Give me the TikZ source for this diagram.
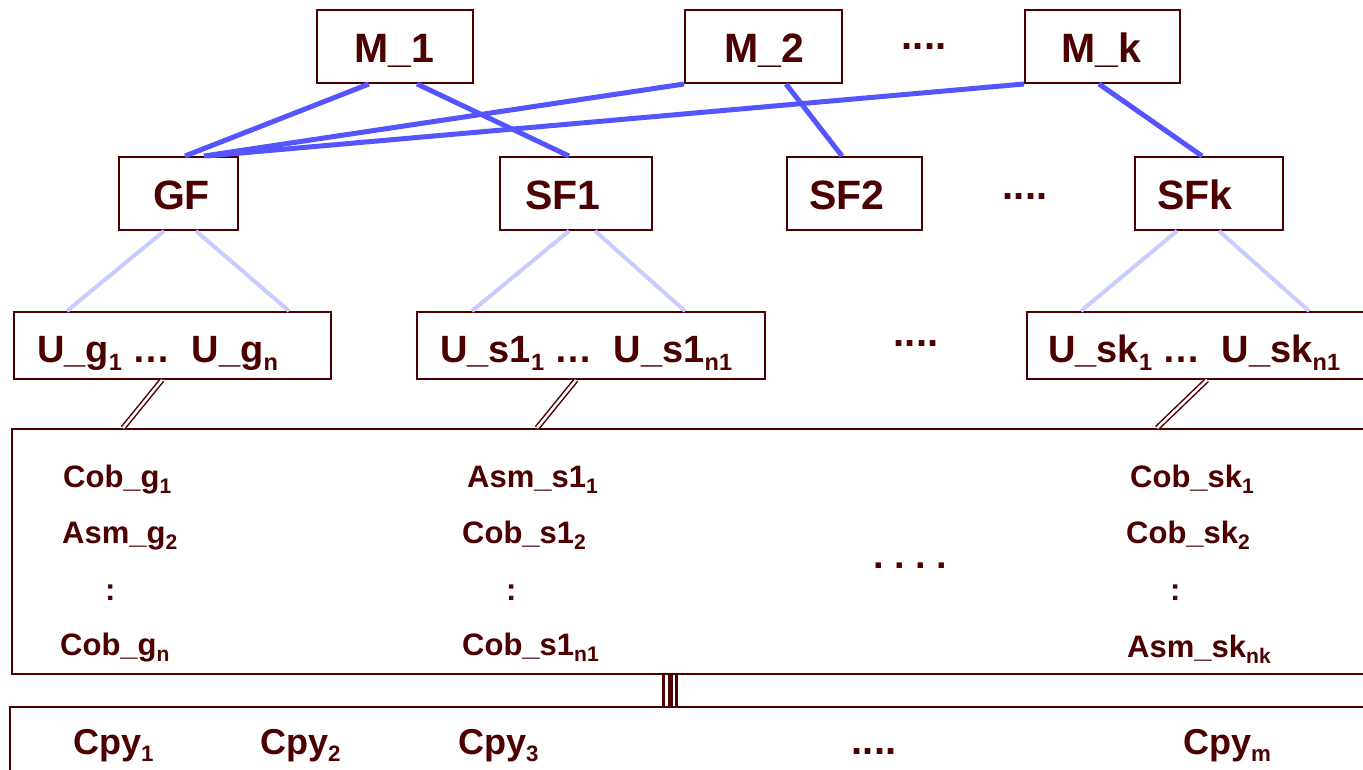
\documentclass[tikz,border=0pt]{standalone}
\usepackage{fontspec}
\setmainfont{Liberation Sans}
\usetikzlibrary{calc}
\definecolor{ink}{HTML}{4D0000}
\definecolor{strong}{HTML}{5555FF}
\definecolor{pale}{HTML}{C8CDFF}
% lowered, reduced index after a name
\newcommand\subs[1]{\raisebox{-0.22em}{\scalebox{0.62}{#1}}}
\newcommand\isubs[1]{\raisebox{-0.22em}{\scalebox{0.68}{#1}}}
\begin{document}
\begin{tikzpicture}[x=1pt,y=-1pt,
  box/.style={draw=ink, line width=2pt, inner sep=0pt},
  biglbl/.style={text=ink, inner sep=0pt, anchor=base, font=\fontsize{41}{41}\selectfont\bfseries},
  unitlbl/.style={text=ink, inner sep=0pt, anchor=base west, font=\fontsize{38}{38}\selectfont\bfseries},
  itemlbl/.style={text=ink, inner sep=0pt, anchor=base west, font=\fontsize{31}{31}\selectfont\bfseries},
  copylbl/.style={text=ink, inner sep=0pt, anchor=base west, font=\fontsize{36}{36}\selectfont\bfseries},
  dots/.style={text=ink, inner sep=0pt, anchor=base, font=\fontsize{40}{40}\selectfont\bfseries},
  link/.style={draw=strong, line width=5pt},
  faint/.style={draw=pale, line width=4pt},
  dbl/.style={draw=ink, double=white, line width=1.5pt, double distance=2.5pt},
]
\useasboundingbox (0,0) rectangle (1363,770);

% managers
\node[box, minimum width=156pt, minimum height=73pt] (m1) at (395,46.5) {};
\node[box, minimum width=157pt, minimum height=73pt] (m2) at (763.5,46.5) {};
\node[box, minimum width=155pt, minimum height=73pt] (mk) at (1102.5,46.5) {};
\node[biglbl] (m1t) at (394,63) {M\_1};
\node[biglbl] (m2t) at (764,63) {M\_2};
\node[biglbl] (mkt) at (1101,63) {M\_k};
\node[dots] (d1) at (924,50) {....};

% federations
\node[box, minimum width=119pt, minimum height=73pt] (gf) at (178.5,193.5) {};
\node[box, minimum width=152pt, minimum height=73pt] (sf1) at (576,193.5) {};
\node[box, minimum width=135pt, minimum height=73pt] (sf2) at (854.5,193.5) {};
\node[box, minimum width=148pt, minimum height=73pt] (sfk) at (1209,193.5) {};
\node[biglbl] (gft) at (181.5,210) {GF};
\node[biglbl] (sf1t) at (563,210) {SF1};
\node[biglbl] (sf2t) at (847,210) {SF2};
\node[biglbl] (sfkt) at (1195,210) {SFk};
\node[dots] (d2) at (1025,200) {....};

% unit groups
\node[box, minimum width=317pt, minimum height=67pt] (ug) at (172.5,345.5) {};
\node[box, minimum width=348pt, minimum height=67pt] (us1) at (591,345.5) {};
\node[box, minimum width=348pt, minimum height=67pt] (usk) at (1201,345.5) {};
\node[unitlbl] (ugt) at (37,362) {U\_g\subs{1}\ … \ U\_g\subs{n}};
\node[unitlbl] (us1t) at (440,362) {U\_s1\subs{1}\ … \ U\_s1\subs{n1}};
\node[unitlbl] (uskt) at (1048,362) {U\_sk\subs{1}\ … \ U\_sk\subs{n1}};
\node[dots] (d3) at (916,346) {....};

% pool of components
\node[box, minimum width=1368pt, minimum height=245pt] (pool) at (696,551.5) {};
\node[itemlbl] (c11) at (63,487) {Cob\_g\isubs{1}};
\node[itemlbl] (c12) at (62,543) {Asm\_g\isubs{2}};
\node[itemlbl] (c13) at (105,600) {:};
\node[itemlbl] (c14) at (60,655) {Cob\_g\isubs{n}};
\node[itemlbl] (c21) at (467,487) {Asm\_s1\isubs{1}};
\node[itemlbl] (c22) at (462,543) {Cob\_s1\isubs{2}};
\node[itemlbl] (c23) at (506,600) {:};
\node[itemlbl] (c24) at (462,655) {Cob\_s1\isubs{n1}};
\node[itemlbl] (c31) at (1130,487) {Cob\_sk\isubs{1}};
\node[itemlbl] (c32) at (1126,543) {Cob\_sk\isubs{2}};
\node[itemlbl] (c33) at (1170,600) {:};
\node[itemlbl] (c34) at (1127,657) {Asm\_sk\isubs{nk}};
\node[dots, font=\fontsize{38}{38}\selectfont\bfseries] (d4) at (910,568) {.\ .\ .\ .};

% copies
\node[box, minimum width=1370pt, minimum height=83pt] (copies) at (695,748.5) {};
\node[copylbl] (p1) at (73,754) {Cpy\subs{1}};
\node[copylbl] (p2) at (260,754) {Cpy\subs{2}};
\node[copylbl] (p3) at (458,754) {Cpy\subs{3}};
\node[dots] (d5) at (874,754) {....};
\node[copylbl] (pm) at (1183,754) {Cpy\subs{m}};

% manager to federation links
\draw[link] ($(m1.south west)+(53,0)$) -- ($(gf.north west)+(67,0)$);
\draw[link] ($(m1.south west)+(101,0)$) -- ($(sf1.north west)+(70,0)$);
\draw[link] (m2.south west) -- ($(gf.north west)+(86,0)$);
\draw[link] (mk.south west) -- ($(gf.north west)+(89,0)$);
\draw[link] ($(m2.south west)+(102,0)$) -- ($(sf2.north west)+(56,0)$);
\draw[link] ($(mk.south west)+(75,0)$) -- ($(sfk.north west)+(68,0)$);

% federation to unit group links
\draw[faint] ($(gf.south west)+(46,0)$) -- ($(ug.north west)+(54,0)$);
\draw[faint] ($(gf.south west)+(78,0)$) -- ($(ug.north west)+(276,0)$);
\draw[faint] ($(sf1.south west)+(70,0)$) -- ($(us1.north west)+(56,0)$);
\draw[faint] ($(sf1.south west)+(96,0)$) -- ($(us1.north west)+(269,0)$);
\draw[faint] ($(sfk.south west)+(43,0)$) -- ($(usk.north west)+(55,0)$);
\draw[faint] ($(sfk.south west)+(85,0)$) -- ($(usk.north west)+(283,0)$);

% unit groups to pool
\draw[dbl] ($(ug.south west)+(149,0)$) -- ($(pool.north west)+(112,0)$);
\draw[dbl] ($(us1.south west)+(160,0)$) -- ($(pool.north west)+(526,0)$);
\draw[dbl] ($(usk.south west)+(181,0)$) -- ($(pool.north west)+(1146,0)$);

% pool to copies
\draw[draw=ink, line width=2.7pt] ($(pool.south west)+(652.7,0)$) coordinate (t1) -- (t1 |- copies.north);
\draw[draw=ink, line width=4.7pt] ($(pool.south west)+(659.3,0)$) coordinate (t2) -- (t2 |- copies.north);
\draw[draw=ink, line width=3pt] ($(pool.south west)+(665.5,0)$) coordinate (t3) -- (t3 |- copies.north);
\end{tikzpicture}
\end{document}
